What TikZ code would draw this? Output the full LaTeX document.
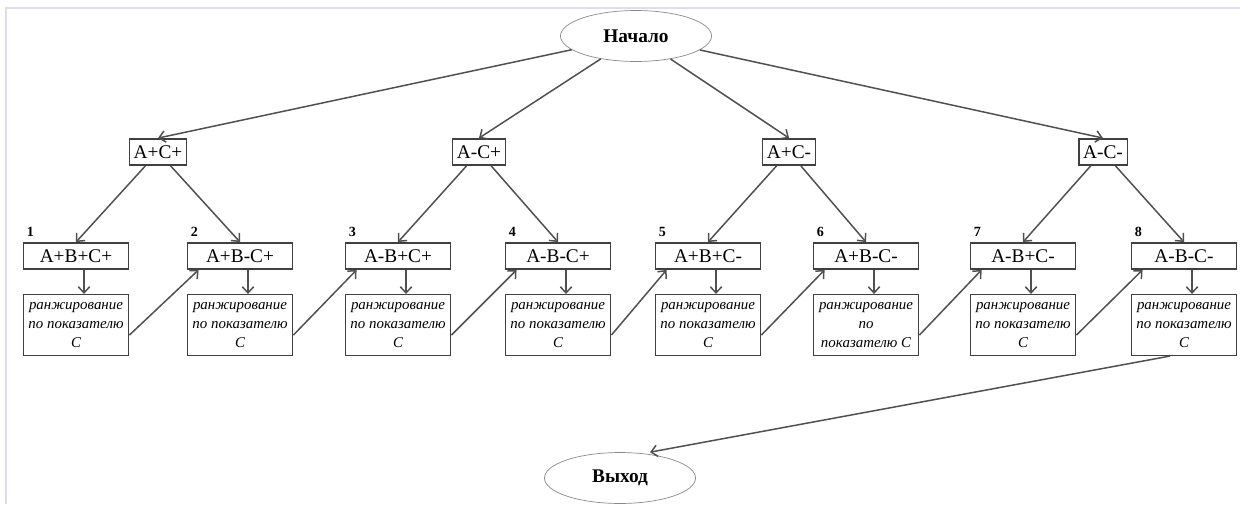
\documentclass[tikz,border=0pt]{standalone}
\usepackage{fontspec}
\setmainfont{Liberation Serif}
\usetikzlibrary{arrows.meta,positioning,calc,shapes.geometric}
\definecolor{lnk}{HTML}{505050}
\definecolor{brd}{HTML}{404040}
\definecolor{frm}{HTML}{DCDEF0}
\definecolor{ovl}{HTML}{8A8A8A}
\tikzset{
  % start / exit ovals
  term/.style = {ellipse, draw=ovl, thin, minimum width=86pt, minimum height=29pt,
                 inner sep=1pt, font=\fontsize{11}{13}\selectfont\bfseries},
  grp/.style  = {rectangle, draw=brd, line width=0.85pt, inner xsep=2.5pt, inner ysep=1pt,
                 minimum height=15pt, font=\fontsize{11}{13}\selectfont},
  var/.style  = {grp, minimum width=60pt},
  rank/.style = {rectangle, draw=brd, line width=0.85pt, minimum width=60pt, minimum height=34.5pt,
                 inner sep=1pt, align=center, font=\fontsize{8.5}{10.8}\selectfont\itshape},
  num/.style  = {font=\fontsize{8}{9}\selectfont\bfseries, inner sep=0pt, anchor=south west},
  lane/.style = {-{Straight Barb[length=3.5pt,width=6.5pt]}, lnk, line width=0.85pt},
}
\newcommand{\rktext}{ранжирование\\по показателю\\C}

\begin{document}
\begin{tikzpicture}[x=0.02cm,y=-0.02cm]
\useasboundingbox (0,0) rectangle (1240,504);
% frame
\draw[frm, line width=1.2pt] (6,504) -- (6,8) -- (1240,8);

\node[term] (start) at (636,36) {Начало};
\node[term] (exit)  at (620,478) {Выход};

% first split
\foreach \n/\x/\t in {1/158/A+C+, 2/479/A-C+, 3/789/A+C-, 4/1103/A-C-}
  \node[grp] (g\n) at (\x,152) {\t};

% variants and ranking
\foreach \n/\x/\t/\r in {1/76/A+B+C+/\rktext, 2/240/A+B-C+/\rktext, 3/398/A-B+C+/\rktext,
                         4/558/A-B-C+/\rktext, 5/708/A+B+C-/\rktext,
                         6/866/A+B-C-/{ранжирование\\по\\показателю C},
                         7/1023/A-B+C-/\rktext, 8/1184/A-B-C-/\rktext} {
  \node[var] (v\n) at (\x,256) {\t};
  \node[num] (n\n) at ($(v\n.north west)+(4,-5)$) {\n};
  \node[rank] (rk\n) at (\x,325) {\r};
}

\foreach \g in {1,...,4} {\draw[lane] (start) -- (g\g.north);}
\foreach \a/\b in {1/1,1/2,2/3,2/4,3/5,3/6,4/7,4/8} {\draw[lane] (g\a) -- (v\b.north);}
\foreach \n in {1,...,8} {\draw[lane] ($(v\n.south)+(8,0)$) -- ($(rk\n.north)+(8,0)$);}
\foreach \a/\b in {1/2,2/3,3/4,4/5,5/6,6/7,7/8} {\draw[lane] ($(rk\a.east)+(0,10)$) -- ($(v\b.south west)+(12,0)$);}
\draw[lane] ($(rk8.south)+(-14,0)$) -- ($(exit.north)+(30,0)$);
\end{tikzpicture}
\end{document}
